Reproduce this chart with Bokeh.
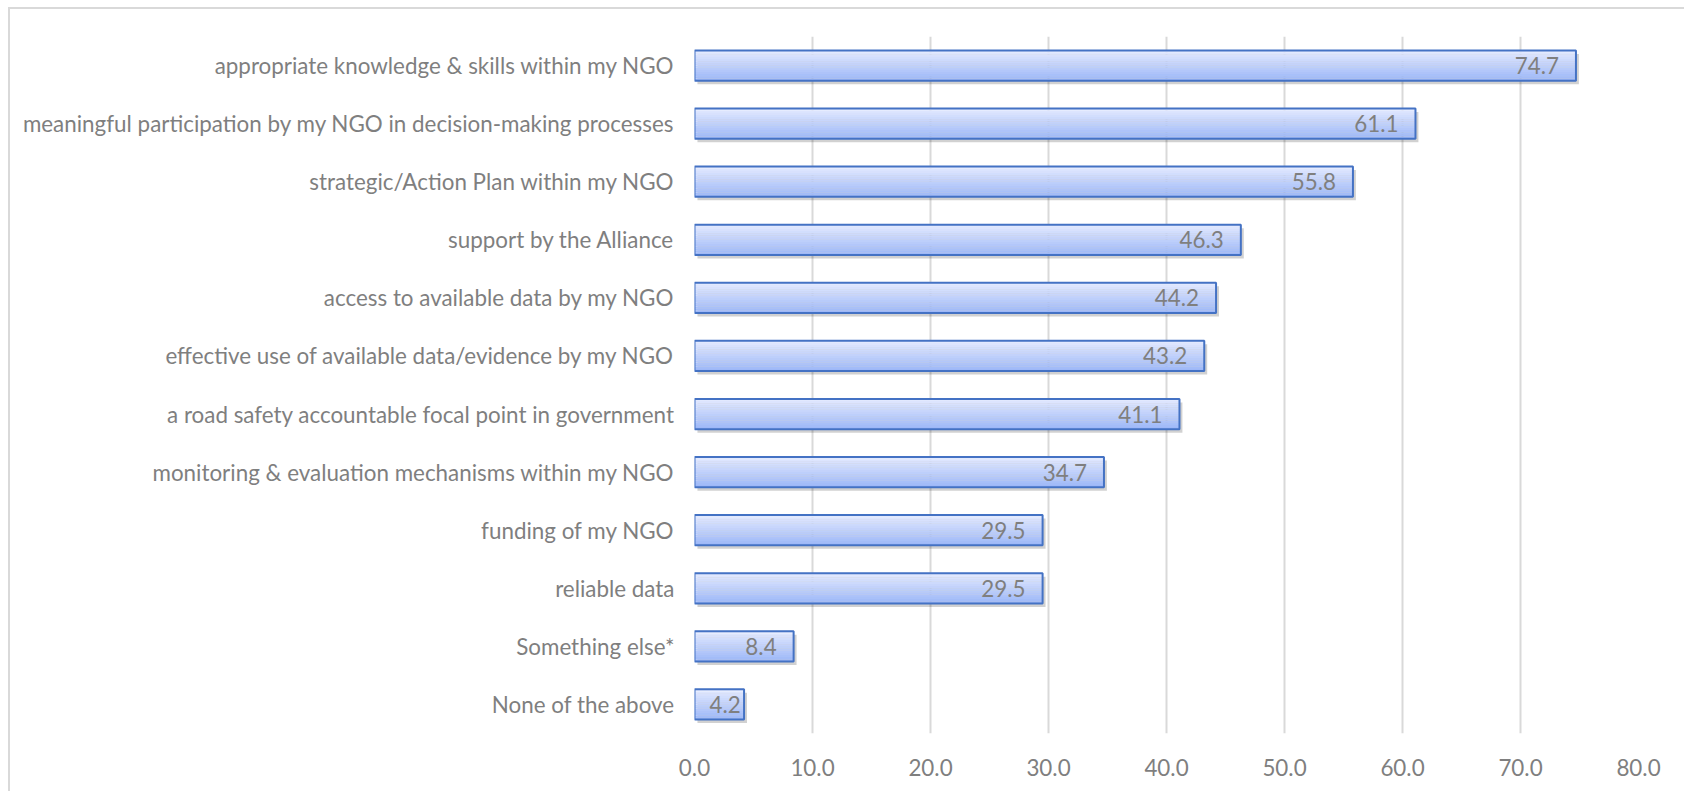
from bokeh.plotting import figure
from bokeh.models import Range1d, FixedTicker, ColumnDataSource
from bokeh.core.properties import value
from bokeh.embed import file_html
from bokeh.resources import INLINE

categories = [
    "appropriate knowledge & skills within my NGO",
    "meaningful participation by my NGO in decision-making processes",
    "strategic/Action Plan within my NGO",
    "support by the Alliance",
    "access to available data by my NGO",
    "effective use of available data/evidence by my NGO",
    "a road safety accountable focal point in government",
    "monitoring & evaluation mechanisms within my NGO",
    "funding of my NGO",
    "reliable data",
    "Something else*",
    "None of the above",
]
values = [74.7, 61.1, 55.8, 46.3, 44.2, 43.2, 41.1, 34.7, 29.5, 29.5, 8.4, 4.2]
x_ticks = [0, 10, 20, 30, 40, 50, 60, 70, 80]
x_tick_labels = ["0.0", "10.0", "20.0", "30.0", "40.0", "50.0", "60.0", "70.0", "80.0"]

FONT = "Lato"
GREY = "#7f7f7f"
BAR_H = 0.52
FS = "22.4px"

idx = list(range(len(categories)))

p = figure(width=1674, height=783, output_backend="svg", toolbar_location=None,
           x_range=Range1d(0, 80), y_range=Range1d(len(categories) - 0.5, -0.5),
           min_border_left=684, min_border_right=46, min_border_top=27, min_border_bottom=58)
p.frame_width = 944
p.frame_height = 697
p.styles = {"margin-left": "8px", "margin-top": "7px",
            "border-left": "2px solid #d9d9d9", "border-top": "2px solid #d9d9d9"}
p.outline_line_color = None
p.background_fill_color = "white"
p.border_fill_color = "white"

# shadow
p.hbar(y=[i + 0.06 for i in idx], right=[v + 0.25 for v in values], left=0.25,
       height=BAR_H, fill_color="#000000", fill_alpha=0.18, line_color=None)

# gradient fill
N = 14
top_c = (0xE2, 0xE9, 0xFE)
bot_c = (0x9E, 0xB8, 0xF8)
for k in range(N):
    t = k / (N - 1)
    c = tuple(int(round(top_c[j] + (bot_c[j] - top_c[j]) * t)) for j in range(3))
    col = "#%02x%02x%02x" % c
    ys = [i - BAR_H / 2 + (k + 0.5) * BAR_H / N for i in idx]
    p.hbar(y=ys, right=values, left=0, height=BAR_H / N * 1.05,
           fill_color=col, line_color=None)

# outline
p.hbar(y=idx, right=values, left=0, height=BAR_H, fill_alpha=0,
       line_color="#4472c4", line_width=2)

# data labels: inside end; clamp to the plot's left edge when the bar is too short
fits = [v >= 6 for v in values]
src = ColumnDataSource(dict(
    x=[v if f else 0 for v, f in zip(values, fits)],
    y=idx,
    t=["%.1f" % v for v in values],
    align=["right" if f else "left" for f in fits],
    xo=[-17 if f else 15 for f in fits],
))
p.text(x="x", y="y", text="t", source=src, x_offset="xo", text_align="align",
       text_baseline="middle", text_font=value(FONT), text_font_size=FS,
       text_color=GREY)

p.xaxis.ticker = FixedTicker(ticks=x_ticks)
p.xaxis.major_label_overrides = {t: l for t, l in zip(x_ticks, x_tick_labels)}
p.yaxis.ticker = FixedTicker(ticks=idx)
p.yaxis.major_label_overrides = {i: c for i, c in zip(idx, categories)}

for ax in (p.xaxis, p.yaxis):
    ax.axis_line_color = None
    ax.major_tick_line_color = None
    ax.minor_tick_line_color = None
    ax.major_label_text_font = FONT
    ax.major_label_text_font_size = FS
    ax.major_label_text_color = GREY
p.yaxis.major_label_standoff = 14
p.xaxis.major_label_standoff = 19

p.xgrid.ticker = FixedTicker(ticks=x_ticks)
p.xgrid.grid_line_color = "#d9d9d9"
p.xgrid.grid_line_width = 2
p.ygrid.grid_line_color = None

open("out.html", "w").write(file_html(p, INLINE))
